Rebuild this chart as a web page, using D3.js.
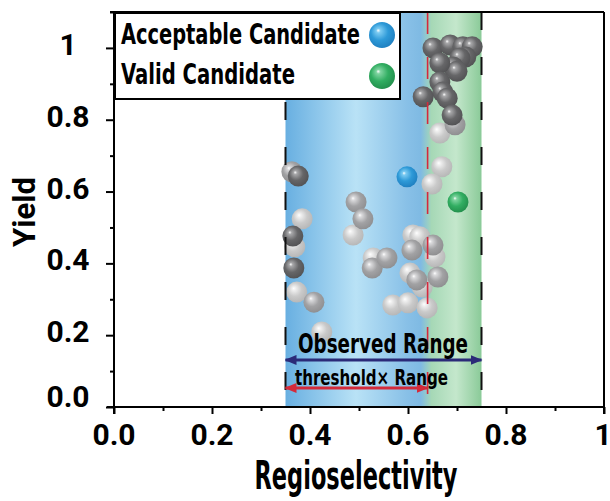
<!DOCTYPE html>
<html>
<head>
<meta charset="utf-8">
<script src="https://cdn.jsdelivr.net/npm/d3@7"></script>
<style>
  body { margin: 0; background: #fff; }
  .narrow { font-family: "Liberation Sans Narrow", "Arial Narrow", "DejaVu Sans Condensed", sans-serif; font-weight: bold; }
  .tick-label { font-family: Roboto, "Liberation Sans", Arial, sans-serif; font-weight: bold; font-size: 30px; }
</style>
</head>
<body>
<svg width="610" height="501"></svg>
<script>
// spheres, grouped by shade (regioselectivity, yield)
const darkPoints = [
  [0.651, 1.000], [0.686, 1.008], [0.712, 1.003], [0.731, 1.003], [0.718, 0.975],
  [0.706, 0.972], [0.692, 0.947], [0.700, 0.935], [0.665, 0.958], [0.665, 0.905],
  [0.671, 0.877], [0.680, 0.860], [0.631, 0.864], [0.690, 0.813],
  [0.376, 0.643], [0.365, 0.476], [0.367, 0.387]
];
const midPoints = [
  [0.696, 0.786], [0.363, 0.655], [0.494, 0.571], [0.508, 0.524], [0.408, 0.292],
  [0.527, 0.387], [0.557, 0.415], [0.651, 0.451], [0.608, 0.437], [0.618, 0.354],
  [0.661, 0.362]
];
const lightPoints = [
  [0.665, 0.763], [0.669, 0.669], [0.649, 0.621], [0.488, 0.479], [0.384, 0.524],
  [0.369, 0.446], [0.373, 0.320], [0.424, 0.209], [0.529, 0.415], [0.610, 0.479],
  [0.624, 0.474], [0.655, 0.418], [0.604, 0.373], [0.629, 0.334], [0.569, 0.284],
  [0.600, 0.290], [0.639, 0.276]
];
const acceptablePoints = [[0.598, 0.641]];
const validPoints = [[0.702, 0.571]];

const observedRange = [0.35, 0.75];
const thresholdX = 0.64;
const xMajor = [0, 0.2, 0.4, 0.6, 0.8, 1];
const xMinor = [0.1, 0.3, 0.5, 0.7, 0.9];
const xLabels = ["0.0", "0.2", "0.4", "0.6", "0.8", "1"];
const yMajor = [0, 0.2, 0.4, 0.6, 0.8, 1];
const yMinor = [0.1, 0.3, 0.5, 0.7, 0.9, 1.1];
const yLabels = ["0.0", "0.2", "0.4", "0.6", "0.8", "1"];

const svg = d3.select("svg");
const x = d3.scaleLinear().domain([0, 1]).range([114, 604]);
const y = d3.scaleLinear().domain([0, 1.1]).range([407, 12]);

const defs = svg.append("defs");
const band = defs.append("linearGradient").attr("id", "band");
[[0, "#68afe1"], [0.36, "#b9e2f6"], [0.62, "#88c0e7"], [0.69, "#7fbae3"],
 [0.745, "#a6d8b6"], [0.87, "#c4e7cc"], [1, "#8aca98"]].forEach(s =>
  band.append("stop").attr("offset", s[0]).attr("stop-color", s[1]));

const shades = {
  dark: ["#a8a8aa", "#666668", "#525254"],
  mid: ["#dadadc", "#a2a2a4", "#8e8e90"],
  light: ["#f0f0f0", "#cacaca", "#b6b6b6"],
  blue: ["#7ccbf2", "#2e9ad8", "#1f7fc0"],
  green: ["#7fd4a0", "#32ae62", "#228f4c"]
};
Object.entries(shades).forEach(([k, c]) => {
  const g = defs.append("radialGradient").attr("id", "s-" + k)
    .attr("cx", "45%").attr("cy", "42%").attr("r", "60%")
    .attr("fx", "35%").attr("fy", "32%");
  g.append("stop").attr("offset", 0).attr("stop-color", "#fff");
  g.append("stop").attr("offset", 0.14).attr("stop-color", c[0]);
  g.append("stop").attr("offset", 0.55).attr("stop-color", c[1]);
  g.append("stop").attr("offset", 1).attr("stop-color", c[2]);
});

const arrowDefs = [["navyHead", "#2b2a78"], ["redHead", "#d42a3a"]];
arrowDefs.forEach(([id, col]) => {
  defs.append("marker").attr("id", id)
    .attr("viewBox", "0 0 12 10").attr("refX", 11).attr("refY", 5)
    .attr("markerWidth", 12).attr("markerHeight", 10)
    .attr("markerUnits", "userSpaceOnUse")
    .attr("orient", "auto-start-reverse")
    .append("path").attr("d", "M0,0 L12,5 L0,10 Z").attr("fill", col);
});

// shaded range band
svg.append("rect")
  .attr("x", x(observedRange[0])).attr("y", y(1.1))
  .attr("width", x(observedRange[1]) - x(observedRange[0]))
  .attr("height", y(0) - y(1.1))
  .attr("fill", "url(#band)");

// spheres
function spheres(data, shade, r) {
  svg.append("g").selectAll("circle").data(data).enter().append("circle")
    .attr("cx", d => x(d[0])).attr("cy", d => y(d[1]))
    .attr("r", r).attr("fill", "url(#s-" + shade + ")");
}
spheres(lightPoints, "light", 10.5);
spheres(midPoints, "mid", 10.5);
spheres(darkPoints, "dark", 10.5);
spheres(acceptablePoints, "blue", 10.5);
spheres(validPoints, "green", 10.5);

// dashed range limits
observedRange.forEach(v => {
  svg.append("line")
    .attr("x1", x(v)).attr("x2", x(v)).attr("y1", y(1.1)).attr("y2", y(0))
    .attr("stroke", "#111").attr("stroke-width", 2)
    .attr("stroke-dasharray", "18,27");
});
svg.append("line")
  .attr("x1", x(thresholdX)).attr("x2", x(thresholdX)).attr("y1", y(1.1)).attr("y2", y(0))
  .attr("stroke", "#d6283c").attr("stroke-width", 1.6)
  .attr("stroke-dasharray", "22,23");

// arrows
svg.append("line")
  .attr("x1", x(observedRange[0])).attr("x2", x(observedRange[1]))
  .attr("y1", y(0.131)).attr("y2", y(0.131))
  .attr("stroke", "#2b2a78").attr("stroke-width", 3)
  .attr("marker-start", "url(#navyHead)").attr("marker-end", "url(#navyHead)");
svg.append("line")
  .attr("x1", x(observedRange[0])).attr("x2", x(thresholdX))
  .attr("y1", y(0.053)).attr("y2", y(0.053))
  .attr("stroke", "#d42a3a").attr("stroke-width", 3)
  .attr("marker-start", "url(#redHead)").attr("marker-end", "url(#redHead)");

svg.append("text").attr("class", "narrow")
  .attr("x", 298).attr("y", 353)
  .attr("font-size", 27).attr("textLength", 170).attr("lengthAdjust", "spacingAndGlyphs")
  .text("Observed Range");
svg.append("text").attr("class", "narrow")
  .attr("x", 295).attr("y", 385)
  .attr("font-size", 21).attr("textLength", 153).attr("lengthAdjust", "spacingAndGlyphs")
  .text("threshold× Range");

// axes: frame, ticks
const ax = svg.append("g").attr("stroke", "#000").attr("stroke-width", 2);
ax.append("line").attr("x1", x(0)).attr("x2", x(0)).attr("y1", y(1.1)).attr("y2", y(0) + 7);
ax.append("line").attr("x1", x(0) - 7).attr("x2", x(1)).attr("y1", y(0)).attr("y2", y(0));
ax.append("line").attr("x1", x(1)).attr("x2", x(1)).attr("y1", y(1.1)).attr("y2", y(0) + 7);
ax.append("line").attr("x1", x(0) - 4).attr("x2", x(1)).attr("y1", y(1.1)).attr("y2", y(1.1));

svg.append("g").attr("transform", `translate(0,${y(0)})`)
  .call(d3.axisBottom(x).tickValues(xMajor).tickSize(7).tickFormat(""))
  .call(g => g.select(".domain").remove())
  .call(g => g.selectAll("line").attr("stroke-width", 2));
svg.append("g").attr("transform", `translate(0,${y(0)})`)
  .call(d3.axisBottom(x).tickValues(xMinor).tickSize(4).tickFormat(""))
  .call(g => g.select(".domain").remove())
  .call(g => g.selectAll("line").attr("stroke-width", 2));
svg.append("g").attr("transform", `translate(${x(0)},0)`)
  .call(d3.axisLeft(y).tickValues(yMajor).tickSize(8).tickFormat(""))
  .call(g => g.select(".domain").remove())
  .call(g => g.selectAll("line").attr("stroke-width", 2));
svg.append("g").attr("transform", `translate(${x(0)},0)`)
  .call(d3.axisLeft(y).tickValues(yMinor).tickSize(4).tickFormat(""))
  .call(g => g.select(".domain").remove())
  .call(g => g.selectAll("line").attr("stroke-width", 2));

svg.append("g").selectAll("text").data(xMajor).enter().append("text")
  .attr("class", "tick-label").attr("text-anchor", "middle")
  .attr("x", d => d === 1 ? x(d) - 1 : x(d)).attr("y", 445)
  .text((d, i) => xLabels[i]);
svg.append("g").selectAll("text").data(yMajor).enter().append("text")
  .attr("class", "tick-label").attr("text-anchor", "middle")
  .attr("x", 68).attr("y", d => d === 0 ? y(d) : y(d) + 7)
  .text((d, i) => yLabels[i]);

// axis titles
svg.append("text").attr("class", "narrow")
  .attr("x", 356).attr("y", 489).attr("text-anchor", "middle")
  .attr("font-size", 39).attr("textLength", 203).attr("lengthAdjust", "spacingAndGlyphs")
  .text("Regioselectivity");
svg.append("text")
  .attr("transform", "translate(35,212) rotate(-90)").attr("text-anchor", "middle")
  .style("font-family", "Roboto, 'Liberation Sans', sans-serif").style("font-weight", "bold")
  .attr("font-size", 31).attr("textLength", 70).attr("lengthAdjust", "spacingAndGlyphs")
  .text("Yield");

// legend
const legend = svg.append("g");
legend.append("rect").attr("x", 115).attr("y", 13).attr("width", 285).attr("height", 86)
  .attr("fill", "#fff").attr("stroke", "#000").attr("stroke-width", 2);
const legendItems = [["Acceptable Candidate", "blue", 239], ["Valid Candidate", "green", 174]];
legendItems.forEach((it, i) => {
  legend.append("text").attr("class", "narrow")
    .attr("x", 121).attr("y", 44 + i * 40)
    .attr("font-size", 28).attr("textLength", it[2]).attr("lengthAdjust", "spacingAndGlyphs")
    .text(it[0]);
  legend.append("circle").attr("cx", 382).attr("cy", 35 + i * 41).attr("r", 13)
    .attr("fill", "url(#s-" + it[1] + ")");
});
</script>
</body>
</html>
